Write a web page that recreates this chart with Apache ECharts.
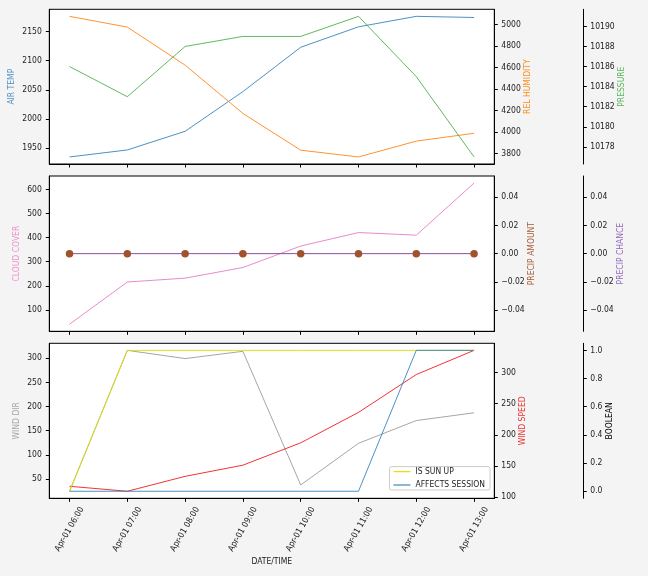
<!DOCTYPE html>
<html><head><meta charset="utf-8">
<script src="https://cdn.jsdelivr.net/npm/echarts@6/dist/echarts.min.js"></script>
<style>html,body{margin:0;padding:0;background:#f4f4f4}#c{width:648px;height:576px}</style>
</head><body><div id="c"></div>
<script>
const times = ['Apr-01 06:00','Apr-01 07:00','Apr-01 08:00','Apr-01 09:00','Apr-01 10:00','Apr-01 11:00','Apr-01 12:00','Apr-01 13:00'];
const airTemp = [1935, 1947, 1979, 2047, 2123, 2158, 2176, 2174];
const relHumidity = [5075, 4975, 4622, 4174, 3833, 3770, 3917, 3990];
const pressure = [10186, 10183, 10188, 10189, 10189, 10191, 10185, 10177];
const cloudCover = [41, 216, 232, 276, 365, 421, 410, 626];
const precipAmount = [0, 0, 0, 0, 0, 0, 0, 0];
const precipChance = [0, 0, 0, 0, 0, 0, 0, 0];
const windDir = [25, 316, 299, 314, 38, 124, 171, 187];
const windSpeed = [117, 109, 133, 151, 187, 236, 297, 336];
const isSunUp = [0, 1, 1, 1, 1, 1, 1, 1];
const affectsSession = [0, 0, 0, 0, 0, 0, 1, 1];

const airTempTicks = [1950, 2000, 2050, 2100, 2150];
const relHumTicks = [3800, 4000, 4200, 4400, 4600, 4800, 5000];
const pressureTicks = [10178, 10180, 10182, 10184, 10186, 10188, 10190];
const cloudTicks = [100, 200, 300, 400, 500, 600];
const precipTicks = [-0.04, -0.02, 0, 0.02, 0.04];
const windDirTicks = [50, 100, 150, 200, 250, 300];
const windSpeedTicks = [100, 150, 200, 250, 300];
const boolTicks = [0, 0.2, 0.4, 0.6, 0.8, 1.0];

const FONT = "'DejaVu Sans Condensed', 'DejaVu Sans', sans-serif";
const FS = 8.5;
const TXT = '#222';

function pad(arr) {
  const mn = Math.min(...arr), mx = Math.max(...arr);
  const r = mx - mn;
  return [mn - 0.05 * r, mx + 0.05 * r];
}
const idx = times.map((t, i) => i);
function pts(arr) { return arr.map((v, i) => [idx[i], v]); }

const L = 49.3, W = 445;
const grids = [
  {left: L, width: W, top: 9.3, height: 154.7},
  {left: L, width: W, top: 176, height: 155.3},
  {left: L, width: W, top: 343.3, height: 155}
].map(g => Object.assign(g, {show: true, containLabel: false, outerBoundsMode: 'none',
  backgroundColor: '#fff', borderColor: '#000', borderWidth: 1}));

const xAxes = [0, 1, 2].map(g => ({
  type: 'value', gridIndex: g, min: -0.35, max: 7.35,
  axisLine: {show: true, onZero: false, lineStyle: {color: '#000', width: 1}},
  axisTick: {show: true, length: 3.5, customValues: idx, lineStyle: {color: '#000'}},
  splitLine: {show: false},
  axisLabel: g === 2 ? {
    show: true, customValues: idx, formatter: v => times[Math.round(v)],
    rotate: 60, align: 'center', verticalAlign: 'middle', margin: 31,
    fontFamily: FONT, fontSize: FS, color: TXT
  } : {show: false},
  name: g === 2 ? 'DATE/TIME' : '',
  nameLocation: 'middle', nameGap: 59, nameMoveOverlap: false,
  nameTextStyle: {fontFamily: FONT, fontSize: FS, color: TXT}
}));

function yAx(grid, pos, offset, range, ticks, fmt, name, color, nameGap) {
  return {
    type: 'value', gridIndex: grid, position: pos, offset: offset,
    min: range[0], max: range[1],
    axisLine: {show: true, onZero: false, lineStyle: {color: '#000', width: 1}},
    axisTick: {show: true, length: 3.5, customValues: ticks, lineStyle: {color: '#000'}},
    splitLine: {show: false},
    axisLabel: {show: true, customValues: ticks, formatter: fmt, margin: pos === 'left' ? 7.5 : 7,
      fontFamily: FONT, fontSize: FS, color: TXT},
    name: name, nameLocation: 'middle', nameGap: nameGap, nameMoveOverlap: false,
    nameTextStyle: {fontFamily: FONT, fontSize: FS, color: color}
  };
}
const intFmt = v => String(Math.round(v));
const p2 = v => (v < -1e-9 ? '\u2212' + Math.abs(v).toFixed(2) : Math.abs(v).toFixed(2));
const p1 = v => v.toFixed(1);

const C = {
  air: 'rgba(31,119,180,0.8)', hum: 'rgba(255,127,14,0.85)', pres: 'rgba(44,160,44,0.75)',
  cloud: 'rgba(227,119,194,0.85)', pamt: '#a0522d', pch: '#8a4f9e',
  wdir: 'rgba(128,128,128,0.7)', wspd: 'rgba(240,0,0,0.8)', sun: 'rgba(222,222,0,0.92)',
  aff: 'rgba(31,119,180,0.8)'
};

const yAxes = [
  yAx(0, 'left', 0, pad(airTemp), airTempTicks, intFmt, 'AIR TEMP', '#4f8fc4', 33),
  yAx(0, 'right', 0, pad(relHumidity), relHumTicks, intFmt, 'REL HUMIDITY', '#ff8c1a', 29),
  yAx(0, 'right', 89, pad(pressure), pressureTicks, intFmt, 'PRESSURE', '#5ab55a', 34),
  yAx(1, 'left', 0, pad(cloudCover), cloudTicks, intFmt, 'CLOUD COVER', '#f090cc', 28),
  yAx(1, 'right', 0, [-0.055, 0.055], precipTicks, p2, 'PRECIP AMOUNT', '#a85a35', 33),
  yAx(1, 'right', 89, [-0.055, 0.055], precipTicks, p2, 'PRECIP CHANCE', '#9467bd', 33),
  yAx(2, 'left', 0, pad(windDir), windDirTicks, intFmt, 'WIND DIR', '#a6a6a6', 28),
  yAx(2, 'right', 0, pad(windSpeed), windSpeedTicks, intFmt, 'WIND SPEED', '#e83030', 24),
  yAx(2, 'right', 89, [-0.05, 1.05], boolTicks, p1, 'BOOLEAN', '#000', 22)
];

function line(name, data, xi, yi, color, z) {
  return {type: 'line', name: name, data: pts(data), xAxisIndex: xi, yAxisIndex: yi,
    symbol: 'none', showSymbol: false, silent: true, animation: false, z: z || 2,
    lineStyle: {color: color, width: 1}, itemStyle: {color: color}};
}

const series = [
  line('AIR TEMP', airTemp, 0, 0, C.air),
  line('REL HUMIDITY', relHumidity, 0, 1, C.hum),
  line('PRESSURE', pressure, 0, 2, C.pres),
  line('CLOUD COVER', cloudCover, 1, 3, C.cloud),
  line('PRECIP CHANCE', precipChance, 1, 5, C.pch),
  {type: 'scatter', name: 'PRECIP AMOUNT', data: pts(precipAmount), xAxisIndex: 1, yAxisIndex: 4,
    symbol: 'circle', symbolSize: 7.5, silent: true, animation: false, z: 5,
    itemStyle: {color: C.pamt, opacity: 1}},
  line('WIND DIR', windDir, 2, 6, C.wdir),
  line('WIND SPEED', windSpeed, 2, 7, C.wspd),
  line('IS SUN UP', isSunUp, 2, 8, C.sun),
  line('AFFECTS SESSION', affectsSession, 2, 8, C.aff)
];

const chart = echarts.init(document.getElementById('c'), null, {renderer: 'canvas'});
chart.setOption({
  backgroundColor: '#f4f4f4',
  animation: false,
  grid: grids,
  xAxis: xAxes,
  yAxis: yAxes,
  legend: {
    data: [{name: 'IS SUN UP', icon: 'rect'}, {name: 'AFFECTS SESSION', icon: 'rect'}],
    orient: 'vertical', right: 158, bottom: 86,
    padding: [0, 5, 0, 4], itemGap: 3.4, itemWidth: 17, itemHeight: 1.3,
    backgroundColor: '#fff', borderColor: '#ccc', borderWidth: 1, borderRadius: 2,
    textStyle: {fontFamily: FONT, fontSize: FS, color: TXT, lineHeight: 10},
    selectedMode: false
  },
  series: series
});
</script></body></html>
